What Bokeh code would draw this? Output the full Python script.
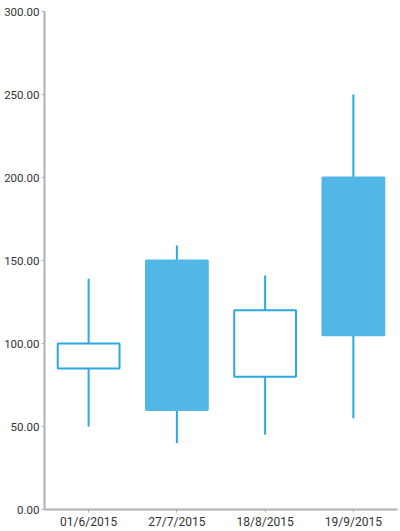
from bokeh.plotting import figure
from bokeh.models import ColumnDataSource, FixedTicker, PrintfTickFormatter, FactorRange, Range1d
from bokeh.embed import file_html
from bokeh.resources import INLINE

dates = ["01/6/2015", "27/7/2015", "18/8/2015", "19/9/2015"]
opens = [85, 150, 80, 200]
highs = [139, 159, 141, 250]
lows = [50, 40, 45, 55]
closes = [100, 60, 120, 105]
y_ticks = [0, 50, 100, 150, 200, 250, 300]

BLUE_LINE = "#2ba8e0"
BLUE_FILL = "#52b6e6"

inc = [c >= o for o, c in zip(opens, closes)]
src = ColumnDataSource(dict(
    x=dates,
    high=highs,
    low=lows,
    top=[max(o, c) for o, c in zip(opens, closes)],
    bottom=[min(o, c) for o, c in zip(opens, closes)],
    fill=["white" if i else BLUE_FILL for i in inc],
    line=[BLUE_LINE if i else BLUE_FILL for i in inc],
))

p = figure(x_range=FactorRange(*dates, range_padding=0), y_range=Range1d(0, 300),
           width=400, height=531, output_backend="svg", toolbar_location=None,
           min_border_left=44, min_border_right=3, min_border_top=11, min_border_bottom=21)
p.outline_line_color = None
p.grid.grid_line_color = None

p.segment(x0="x", y0="low", x1="x", y1="high", source=src, line_color=BLUE_LINE, line_width=2)
p.vbar(x="x", width=0.7, top="top", bottom="bottom", source=src,
       fill_color="fill", line_color="line", line_width=2)

for ax in (p.xaxis[0], p.yaxis[0]):
    ax.axis_line_color = "#b0b0b0"
    ax.axis_line_width = 2
    ax.major_tick_line_color = "#b0b0b0"
    ax.major_tick_line_width = 1
    ax.major_tick_out = 3
    ax.major_tick_in = 0
    ax.minor_tick_line_color = None
    ax.major_label_text_color = "#333333"
    ax.major_label_text_font = "Roboto"
    ax.major_label_standoff = 2

p.yaxis[0].ticker = FixedTicker(ticks=y_ticks)
p.yaxis[0].formatter = PrintfTickFormatter(format="%.2f")
p.yaxis[0].major_label_text_font_size = "11.5px"
p.xaxis[0].major_label_text_font_size = "12px"

open("out.html", "w").write(file_html(p, INLINE))
